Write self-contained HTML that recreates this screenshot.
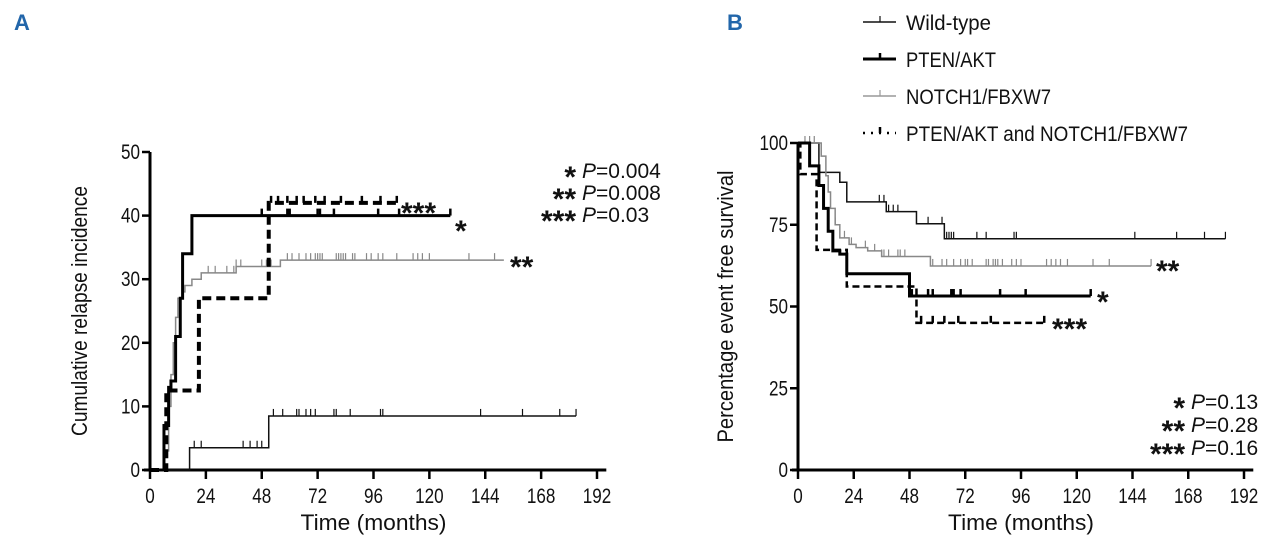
<!DOCTYPE html>
<html><head><meta charset="utf-8"><style>
html,body{margin:0;padding:0;background:#fff;}
svg text{font-family:"Liberation Sans Narrow","Liberation Sans",sans-serif;fill:#111;}
</style></head><body>
<svg id="fig" width="1280" height="548" viewBox="0 0 1280 548" xmlns="http://www.w3.org/2000/svg">
<text x="14" y="30" font-size="22" font-weight="bold" style="fill:#2266aa;font-family:'Liberation Sans',sans-serif">A</text>
<text x="727" y="30" font-size="22" font-weight="bold" style="fill:#2266aa;font-family:'Liberation Sans',sans-serif">B</text>
<g id="pa"></g>
<g id="pb"></g>
</svg>
<script>
// ---------- Panel A data ----------
const aXTicks=[0,24,48,72,96,120,144,168,192];
const aYTicks=[0,10,20,30,40,50];
const aWildT=[17,51];const aWildV=[3.5,8.5];const aWildEnd=183;
const aWildCens=[19,22,40,43,46,48,53,57,63,64,67,69,71,79,80,86,99,100,142,160,176,183];
const aPtenT=[6,8,9,11,13,14,18];const aPtenV=[7,13,14,21,27,34,40];const aPtenEnd=129;
const aPtenCens=[48,59,60,72,73,79,98,107,129];
const aNotchT=[6,8,9,10,11,12,14,15,18,22,37,56];const aNotchV=[3,10,15,20,24,27,28,29,30,31,32,33];const aNotchEnd=152;
const aNotchCens=[25,28,33,36,37,39,48,50,52,59,61,64,67,69,71,72,73,74,80,81,82,83,84,87,88,93,95,98,100,106,113,115,117,120,137,148];
const aCombT=[7,21,51];const aCombV=[12.5,27,42];const aCombEnd=106;
const aCombCens=[52,55,59,63,66,71,75,82,91,99,106];
// ---------- Panel B data ----------
const bXTicks=[0,24,48,72,96,120,144,168,192];
const bYTicks=[0,25,50,75,100];
const bWildT=[9,18,21,38,51,63];const bWildV=[91,88,82,79,75.3,70.7];const bWildEnd=184;
const bWildCens=[35,37,39,41,43,56,62,64,65,66,67,77,81,93,94,145,163,175,184];
const bPtenT=[5,9,11,13,15,18,21,48];const bPtenV=[93,87,80,73,67,66,60,53.2];const bPtenEnd=126;
const bPtenCens=[49,56,58,66,67,70,87,98,126];
const bNotchT=[10,12,13,14,16,18,22,25,30,36,57];const bNotchV=[96,90,85,80,75,71,69,68,67,65.3,62.4];const bNotchEnd=152;
const bNotchCens=[3,5,7,16,20,23,29,33,36,37,39,43,44,46,58,62,64,67,70,72,73,75,81,82,84,85,86,88,92,94,96,107,109,111,113,116,127,134,152];
const bCombT=[1,8,21,51];const bCombV=[90.5,67.3,56.1,45];const bCombEnd=106;
const bCombCens=[53,58,63,69,83,106];

const NS='http://www.w3.org/2000/svg';
function mk(parent,tag,attrs,text){const e=document.createElementNS(NS,tag);for(const k in attrs)e.setAttribute(k,attrs[k]);if(text!==undefined)e.textContent=text;parent.appendChild(e);return e;}
function narrow(e,w){e.setAttribute('textLength',w);e.setAttribute('lengthAdjust','spacingAndGlyphs');}

function panel(g,o){
  const sx=v=>o.x0+(v/192)*(o.x1-o.x0);
  const sy=v=>o.y0-(v/o.ymax)*(o.y0-o.y1);
  const ax=mk(g,'line',{x1:sx(0),y1:sy(0),x2:sx(0),y2:sy(o.ymax),stroke:'#000','stroke-width':3});
  
  
  const bx=mk(g,'line',{x1:sx(0)-6,y1:sy(0),x2:sx(196),y2:sy(0),stroke:'#000','stroke-width':3});
  
  
  o.xt.forEach(t=>{
    const l=mk(g,'line',{x1:sx(t),y1:sy(0),x2:sx(t),y2:sy(0)+9,stroke:'#000','stroke-width':2.5});
    
    
    const tx=mk(g,'text',{x:sx(t),y:sy(0)+33,'font-size':21,'text-anchor':'middle'},String(t));
    narrow(tx,String(t).length*9.5);
    
    
  });
  o.yt.forEach(t=>{
    const l=mk(g,'line',{x1:sx(0)-8,y1:sy(t),x2:sx(0),y2:sy(t),stroke:'#000','stroke-width':2.5});
    
    
    const tx=mk(g,'text',{x:sx(0)-10,y:sy(t)+7,'font-size':21,'text-anchor':'end'},String(t));
    narrow(tx,String(t).length*9.5);
    
    
  });
  const xt=mk(g,'text',{x:(sx(0)+sx(192))/2,y:sy(0)+60,'font-size':22,'text-anchor':'middle'},'Time (months)');
  narrow(xt,146);
  
  
  const yt=mk(g,'text',{x:0,y:0,'font-size':22,'text-anchor':'middle',transform:`translate(${o.ytx},${(sy(0)+sy(o.ymax))/2}) rotate(-90)`},o.ytitle);
  narrow(yt,o.ytw);
  
  
  o.series.forEach(s=>{
    let v=o.start,d=`M${sx(0)},${sy(v)}`;
    s.t.forEach((t,i)=>{d+=` H${sx(t)} V${sy(s.v[i])}`;v=s.v[i];});
    d+=` H${sx(s.end)}`;
    const p=mk(g,'path',{d:d,fill:'none',stroke:s.c,'stroke-width':s.w});
    if(s.dash)p.setAttribute('stroke-dasharray',s.dash);
    
    
    s.cens.forEach(t=>{
      let val=o.start;s.t.forEach((tt,i)=>{if(tt<=t)val=s.v[i];});
      const c=mk(g,'line',{x1:sx(t),y1:sy(val),x2:sx(t),y2:sy(val)-7,stroke:s.c,'stroke-width':s.w>2?2.5:1.2});
      
      
    });
  });
}

const ga=document.getElementById('pa');
panel(ga,{x0:150,x1:597,y0:470,y1:152,ymax:50,start:0,xt:aXTicks,yt:aYTicks,ytx:87,ytw:250,ytitle:'Cumulative relapse incidence',
 series:[
  {name:'wild-type',t:aWildT,v:aWildV,end:aWildEnd,cens:aWildCens,c:'#111',w:1.5},
  {name:'notch1-fbxw7',t:aNotchT,v:aNotchV,end:aNotchEnd,cens:aNotchCens,c:'#888',w:1.5},
  {name:'pten-akt',t:aPtenT,v:aPtenV,end:aPtenEnd,cens:aPtenCens,c:'#000',w:3},
  {name:'pten-akt-and-notch1',t:aCombT,v:aCombV,end:aCombEnd,cens:aCombCens,c:'#000',w:4,dash:'9,5'}
 ]});
const gb=document.getElementById('pb');
panel(gb,{x0:798,x1:1244,y0:470,y1:143,ymax:100,start:100,xt:bXTicks,yt:bYTicks,ytx:733,ytw:272,ytitle:'Percentage event free survival',
 series:[
  {name:'wild-type',t:bWildT,v:bWildV,end:bWildEnd,cens:bWildCens,c:'#111',w:1.5},
  {name:'notch1-fbxw7',t:bNotchT,v:bNotchV,end:bNotchEnd,cens:bNotchCens,c:'#888',w:1.5},
  {name:'pten-akt',t:bPtenT,v:bPtenV,end:bPtenEnd,cens:bPtenCens,c:'#000',w:3},
  {name:'pten-akt-and-notch1',t:bCombT,v:bCombV,end:bCombEnd,cens:bCombCens,c:'#000',w:2.5,dash:'7,4'}
 ]});

function stars(g,x,y,s,name){
  const e=mk(g,'text',{x:x,y:y+9,'font-size':30,'font-weight':'bold'},s);
  
  
  return e;
}
function pval(g,x,y,st,val,name){
  const s=stars(g,x-6,y,st,name+'-stars');
  s.setAttribute('text-anchor','end');
  const e=mk(g,'text',{x:x,y:y,'font-size':21});
  
  
  mk(e,'tspan',{'font-style':'italic'},'P');
  mk(e,'tspan',{},'='+val);
}
pval(ga,582,178,'*','0.004','p-value-1');
pval(ga,582,200,'**','0.008','p-value-2');
pval(ga,582,222,'***','0.03','p-value-3');
stars(ga,401,214,'***','dashed-series-marker');
stars(ga,455,232,'*','pten-series-marker');
stars(ga,510,268,'**','notch-series-marker');
pval(gb,1191,409,'*','0.13','p-value-1');
pval(gb,1191,432,'**','0.28','p-value-2');
pval(gb,1191,455,'***','0.16','p-value-3');
stars(gb,1156,272,'**','notch-series-marker');
stars(gb,1097,303,'*','pten-series-marker');
stars(gb,1052,330,'***','dashed-series-marker');

const legItems=['Wild-type','PTEN/AKT','NOTCH1/FBXW7','PTEN/AKT and NOTCH1/FBXW7'];
const legColors=['#111','#000','#999','#000'];
const legWidths=[1.5,3,1.5,2.5];
const legLens=[85,90,145,282];
const lg=mk(gb,'g',{});


legItems.forEach((s,i)=>{
  const y=22+i*37;
  const ent=mk(lg,'g',{});
  
  
  const ln=mk(ent,'line',{x1:863,y1:y,x2:896,y2:y,stroke:legColors[i],'stroke-width':legWidths[i]});
  if(i===3)ln.setAttribute('stroke-dasharray','2,6');
  mk(ent,'line',{x1:880,y1:y,x2:880,y2:y-6,stroke:legColors[i],'stroke-width':legWidths[i]>2?2.5:1.2});
  const t=mk(ent,'text',{x:906,y:y+8,'font-size':21},s);
  narrow(t,legLens[i]);
});
</script>
</body></html>
